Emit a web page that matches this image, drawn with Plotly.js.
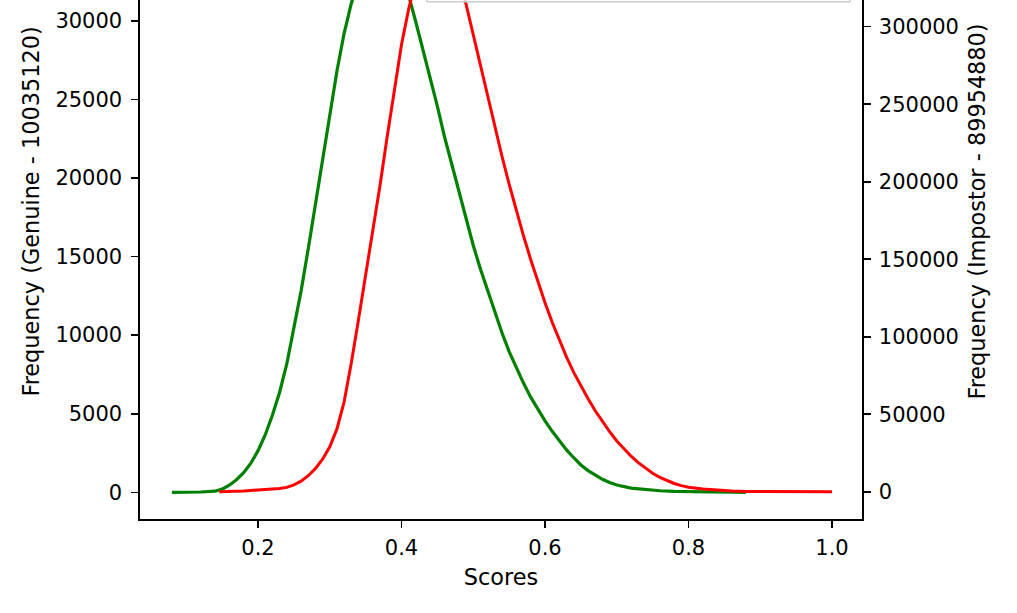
<!DOCTYPE html>
<html>
<head>
<meta charset="utf-8">
<script src="https://cdn.plot.ly/plotly-3.0.1.min.js"></script>
<style>
  html, body { margin: 0; padding: 0; background: #ffffff; overflow: hidden; width: 1017px; height: 613px; }
  #chart { position: absolute; left: 0; top: -120px; width: 1017px; height: 733px; }
</style>
</head>
<body>
<div id="chart"></div>
<script>
// Genuine score histogram (left axis)
const genuineScores = [0.080, 0.10, 0.12, 0.14, 0.15, 0.16, 0.17, 0.18, 0.19, 0.20,
  0.21, 0.22, 0.23, 0.24, 0.25, 0.26, 0.27, 0.28, 0.29, 0.30,
  0.31, 0.32, 0.33, 0.34, 0.35, 0.36, 0.37, 0.38, 0.39, 0.40,
  0.41, 0.42, 0.43, 0.44, 0.45, 0.46, 0.47, 0.48, 0.49, 0.50,
  0.51, 0.52, 0.53, 0.54, 0.55, 0.56, 0.57, 0.58, 0.59, 0.60,
  0.61, 0.62, 0.63, 0.64, 0.65, 0.66, 0.67, 0.68, 0.69, 0.70,
  0.72, 0.74, 0.76, 0.78, 0.80, 0.83, 0.86, 0.88];
const genuineCounts = [0, 5, 20, 70, 200, 450, 800, 1250, 1850, 2650,
  3650, 4900, 6350, 8150, 10400, 12800, 15500, 18300, 21100, 24000,
  26800, 29200, 31100, 32600, 33600, 34200, 34400, 34200, 33700, 32900,
  31600, 29900, 28150, 26350, 24550, 22600, 20850, 19000, 17300, 15700,
  14200, 12800, 11450, 10150, 8950, 7900, 6950, 6050, 5250, 4550,
  3880, 3250, 2700, 2200, 1740, 1380, 1080, 830, 620, 460,
  270, 170, 100, 55, 30, 12, 4, 0];

// Impostor score histogram (right axis)
const impostorScores = [0.146, 0.16, 0.18, 0.19, 0.20, 0.21, 0.22, 0.23, 0.24, 0.25,
  0.26, 0.27, 0.28, 0.29, 0.30, 0.31, 0.32, 0.33, 0.34, 0.35,
  0.36, 0.37, 0.38, 0.39, 0.40, 0.41, 0.42, 0.43, 0.44, 0.45,
  0.46, 0.47, 0.48, 0.49, 0.50, 0.51, 0.52, 0.53, 0.54, 0.55,
  0.56, 0.57, 0.58, 0.59, 0.60, 0.61, 0.62, 0.63, 0.64, 0.65,
  0.66, 0.67, 0.68, 0.69, 0.70, 0.71, 0.72, 0.73, 0.74, 0.75,
  0.76, 0.77, 0.78, 0.79, 0.80, 0.82, 0.84, 0.86, 0.88, 0.90,
  0.95, 1.00];
const impostorCounts = [0, 100, 500, 850, 1100, 1300, 1550, 2000, 2800, 4400,
  6800, 10300, 15000, 21000, 29000, 40500, 58000, 83000, 111000, 139000,
  167000, 197500, 229000, 260000, 288500, 311500, 330000, 343000, 350000, 352000,
  349000, 341000, 330000, 314400, 294400, 274400, 254600, 235200, 216400, 198400,
  181300, 165100, 149800, 135400, 121900, 109300, 97600, 86800, 77000, 68200,
  60000, 52200, 45000, 38700, 32700, 27600, 22900, 18700, 15000, 11900,
  9300, 7100, 5300, 3900, 2900, 1700, 900, 400, 200, 100,
  20, 0];

const xTicks = [0.2, 0.4, 0.6, 0.8, 1.0];
const xTickText = ["0.2", "0.4", "0.6", "0.8", "1.0"];
const leftTicks = [0, 5000, 10000, 15000, 20000, 25000, 30000];
const rightTicks = [0, 50000, 100000, 150000, 200000, 250000, 300000];

const FONT = "DejaVu Sans, Liberation Sans, sans-serif";
const FS = 21;
const TFS = 22.4;
const axisCommon = {
  showline: true, linecolor: "#000000", linewidth: 1.6,
  ticks: "outside", ticklen: 7, tickwidth: 1.6, tickcolor: "#000000",
  showgrid: false, zeroline: false,
  tickfont: { family: FONT, size: FS, color: "#000000" },
  automargin: false
};

const traces = [
  { x: genuineScores, y: genuineCounts, type: "scatter", mode: "lines",
    name: "Genuine", line: { color: "#008000", width: 3.2 }, yaxis: "y" },
  { x: impostorScores, y: impostorCounts, type: "scatter", mode: "lines",
    name: "Impostor", line: { color: "#ff0000", width: 3 }, yaxis: "y2" }
];

const layout = {
  width: 1017, height: 733,
  margin: { l: 140, r: 155, t: 24, b: 94, pad: 0 },
  paper_bgcolor: "#ffffff", plot_bgcolor: "#ffffff",
  showlegend: false,
  font: { family: FONT, size: FS, color: "#000000" },
  xaxis: Object.assign({}, axisCommon, {
    range: [0.0355, 1.0418], tickvals: xTicks, ticktext: xTickText,
    ticklabelstandoff: 2,
    title: { text: "Scores", font: { family: FONT, size: TFS, color: "#000000" }, standoff: 10 }
  }),
  yaxis: Object.assign({}, axisCommon, {
    range: [-1698, 37424], tickvals: leftTicks, tickformat: "d",
    ticklabelstandoff: 5, mirror: false,
    title: { text: "Frequency (Genuine - 10035120)", font: { family: FONT, size: TFS, color: "#000000" }, standoff: 9 }
  }),
  yaxis2: Object.assign({}, axisCommon, {
    overlaying: "y", side: "right", anchor: "x",
    range: [-17613, 379161], tickvals: rightTicks, tickformat: "d",
    ticklabelstandoff: 4,
    title: { text: "Frequency (Impostor - 89954880)", font: { family: FONT, size: TFS, color: "#000000" }, standoff: 11 }
  }),
  shapes: [
    { type: "rect", xref: "paper", yref: "paper", x0: 0.3975, x1: 0.9834, y0: 0.841, y1: 0.987,
      line: { color: "#cccccc", width: 1.6 }, fillcolor: "rgba(255,255,255,0.8)", layer: "above" },
    { type: "line", xref: "paper", yref: "paper", x0: 0, x1: 1, y0: 1, y1: 1,
      line: { color: "#000000", width: 1.6 } }
  ]
};

Plotly.newPlot("chart", traces, layout, { displayModeBar: false, staticPlot: true });
</script>
</body>
</html>
